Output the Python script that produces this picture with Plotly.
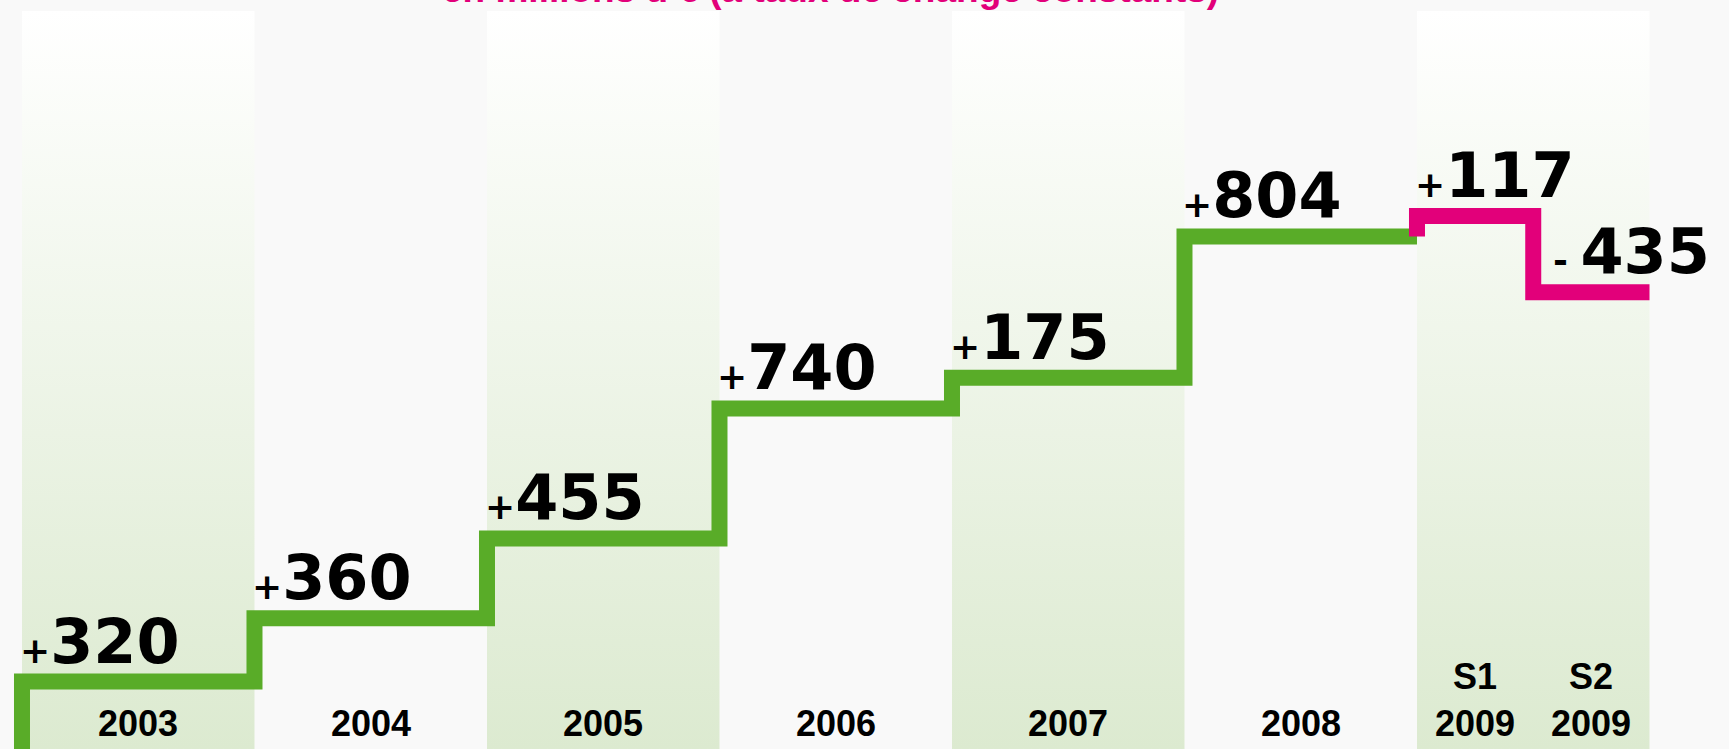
import numpy as np
import plotly.graph_objects as go

# ---------------- data ----------------
periods = ["2003", "2004", "2005", "2006", "2007", "2008", "S1<br>2009", "S2<br>2009"]
period_years = [1, 1, 1, 1, 1, 1, 0.5, 0.5]          # duration of each period (years)
increments = [320, 360, 455, 740, 175, 804, 117, -435]  # change, millions of euros
band_years = ["2003", "2004", "2005", "2006", "2007", "2008", "2009"]
title_text = "en millions d’€ (à taux de change constants)"

# ---------------- style ----------------
GREEN = "#59AC28"
PINK = "#E2007A"
BG = "#F9F9F9"
BAND_BOTTOM = "#DCEAD0"
Y_MIN, Y_MAX, BAND_TOP = -64, 4200, 4137
X_MIN, X_MAX = -0.0946, 7.342
NUM_FONT = "DejaVu Sans"
LAB_FONT = "Liberation Sans, Arial, sans-serif"

starts = np.concatenate([[0.0], np.cumsum(period_years)[:-1]])
end_x = float(np.sum(period_years))
levels = np.cumsum(increments)

fig = go.Figure()

# alternating shaded year bands
for k, yr in enumerate(band_years):
    if k % 2 == 0:
        fig.add_trace(go.Scatter(
            x=[k, k + 1, k + 1, k, k],
            y=[Y_MIN - 200, Y_MIN - 200, BAND_TOP, BAND_TOP, Y_MIN - 200],
            mode="lines", line=dict(width=0), fill="toself",
            fillgradient=dict(type="vertical",
                              colorscale=[[0, BAND_BOTTOM], [1, "#FFFFFF"]],
                              start=Y_MIN, stop=BAND_TOP),
            hoverinfo="skip", showlegend=False))

# green cumulative step line (annual)
n_green = 6
gx = [starts[0]] + list(starts[:n_green]) + [starts[n_green]]
gy = [Y_MIN - 400] + list(levels[:n_green]) + [levels[n_green - 1]]
fig.add_trace(go.Scatter(x=gx, y=gy, mode="lines", line_shape="hv",
                         line=dict(color=GREEN, width=16),
                         hoverinfo="skip", showlegend=False))

# pink step line (half-years 2009)
px_ = [starts[n_green]] + list(starts[n_green:]) + [end_x]
py_ = [levels[n_green - 1]] + list(levels[n_green:]) + [levels[-1]]
fig.add_trace(go.Scatter(x=px_, y=py_, mode="lines", line_shape="hv",
                         line=dict(color=PINK, width=16),
                         hoverinfo="skip", showlegend=False))

# value labels
for i, inc in enumerate(increments):
    sign = "+" if inc >= 0 else "-"
    if inc >= 0:
        txt = f'<span style="font-size:36px">{sign}</span>{abs(inc)}'
        xshift = -4
    else:
        txt = f'<span style="font-size:36px">{sign} </span>{abs(inc)}'
        xshift = 18
    fig.add_annotation(x=starts[i], y=levels[i], xref="x", yref="y",
                       text=txt, showarrow=False, xanchor="left", yanchor="bottom",
                       xshift=xshift, yshift=2,
                       font=dict(family=NUM_FONT, size=62, color="#000000", weight="bold"))

# period labels at bottom
for i, p in enumerate(periods):
    fig.add_annotation(x=starts[i] + period_years[i] / 2, y=0, xref="x", yref="paper",
                       text=f"<b>{p}</b>", showarrow=False, xanchor="center", yanchor="bottom",
                       yshift=3,
                       font=dict(family=LAB_FONT, size=36, color="#000000"))

# clipped subtitle at the very top
fig.add_annotation(x=830 / 1729, y=1, xref="paper", yref="paper",
                   text=f"<b>{title_text}</b>", showarrow=False,
                   xanchor="center", yanchor="bottom", yshift=-12,
                   font=dict(family="Liberation Sans Narrow, Arial Narrow, Liberation Sans", size=37, color=PINK))

fig.update_layout(
    width=1729, height=749,
    margin=dict(l=0, r=0, t=0, b=0),
    paper_bgcolor=BG, plot_bgcolor=BG,
    xaxis=dict(range=[X_MIN, X_MAX], visible=False, fixedrange=True),
    yaxis=dict(range=[Y_MIN, Y_MAX], visible=False, fixedrange=True),
    showlegend=False,
)

fig.write_html("out.html", config={"displayModeBar": False},
               post_script="document.body.style.margin='0';document.body.style.overflow='hidden';")
